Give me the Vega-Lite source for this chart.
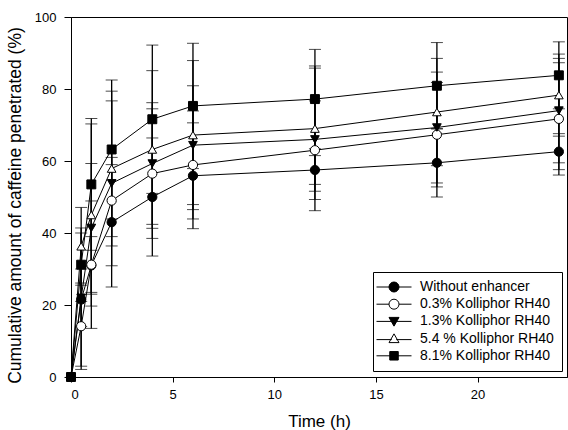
{
  "$schema": "https://vega.github.io/schema/vega-lite/v6.json",
  "width": 496,
  "height": 360,
  "autosize": "none",
  "padding": {"left": 71, "top": 17, "right": 1, "bottom": 53},
  "background": "white",
  "config": {
    "font": "Liberation Sans",
    "view": {"stroke": "black", "strokeWidth": 1},
    "axis": {"grid": false, "domainColor": "black", "tickColor": "black", "labelColor": "black", "titleColor": "black", "domainWidth": 1, "tickWidth": 1, "labelFontSize": 13, "titleFontSize": 17, "titleFontWeight": "normal", "labelFont": "Liberation Sans", "titleFont": "Liberation Sans"}
  },
  "data": {
    "values": [
      {"series": "Without enhancer", "t": 0, "v": 0, "sd": 0},
      {"series": "Without enhancer", "t": 0.5, "v": 21.5, "sd": 18.5},
      {"series": "Without enhancer", "t": 1, "v": 31, "sd": 8},
      {"series": "Without enhancer", "t": 2, "v": 43, "sd": 18},
      {"series": "Without enhancer", "t": 4, "v": 50, "sd": 16.4},
      {"series": "Without enhancer", "t": 6, "v": 55.9, "sd": 14.7},
      {"series": "Without enhancer", "t": 12, "v": 57.5, "sd": 4},
      {"series": "Without enhancer", "t": 18, "v": 59.5, "sd": 9.5},
      {"series": "Without enhancer", "t": 24, "v": 62.6, "sd": 5},
      {"series": "0.3% Kolliphor RH40", "t": 0, "v": 0, "sd": 0},
      {"series": "0.3% Kolliphor RH40", "t": 0.5, "v": 14.1, "sd": 12},
      {"series": "0.3% Kolliphor RH40", "t": 1, "v": 31.2, "sd": 17.7},
      {"series": "0.3% Kolliphor RH40", "t": 2, "v": 49, "sd": 10},
      {"series": "0.3% Kolliphor RH40", "t": 4, "v": 56.5, "sd": 18},
      {"series": "0.3% Kolliphor RH40", "t": 6, "v": 58.9, "sd": 15},
      {"series": "0.3% Kolliphor RH40", "t": 12, "v": 63, "sd": 13.7},
      {"series": "0.3% Kolliphor RH40", "t": 18, "v": 67.3, "sd": 14.5},
      {"series": "0.3% Kolliphor RH40", "t": 24, "v": 71.7, "sd": 15.6},
      {"series": "1.3% Kolliphor RH40", "t": 0, "v": 0, "sd": 0},
      {"series": "1.3% Kolliphor RH40", "t": 0.5, "v": 22, "sd": 8},
      {"series": "1.3% Kolliphor RH40", "t": 1, "v": 41.4, "sd": 17.9},
      {"series": "1.3% Kolliphor RH40", "t": 2, "v": 53.8, "sd": 22.9},
      {"series": "1.3% Kolliphor RH40", "t": 4, "v": 59.3, "sd": 16.9},
      {"series": "1.3% Kolliphor RH40", "t": 6, "v": 64.4, "sd": 16.5},
      {"series": "1.3% Kolliphor RH40", "t": 12, "v": 66, "sd": 19.8},
      {"series": "1.3% Kolliphor RH40", "t": 18, "v": 69.3, "sd": 15.4},
      {"series": "1.3% Kolliphor RH40", "t": 24, "v": 74, "sd": 14.5},
      {"series": "5.4 % Kolliphor RH40", "t": 0, "v": 0, "sd": 0},
      {"series": "5.4 % Kolliphor RH40", "t": 0.5, "v": 36.3, "sd": 10.8},
      {"series": "5.4 % Kolliphor RH40", "t": 1, "v": 45, "sd": 25.3},
      {"series": "5.4 % Kolliphor RH40", "t": 2, "v": 57.9, "sd": 21.5},
      {"series": "5.4 % Kolliphor RH40", "t": 4, "v": 63.2, "sd": 21.9},
      {"series": "5.4 % Kolliphor RH40", "t": 6, "v": 67.2, "sd": 20.7},
      {"series": "5.4 % Kolliphor RH40", "t": 12, "v": 69, "sd": 17.4},
      {"series": "5.4 % Kolliphor RH40", "t": 18, "v": 73.6, "sd": 14.9},
      {"series": "5.4 % Kolliphor RH40", "t": 24, "v": 78.3, "sd": 11.4},
      {"series": "8.1% Kolliphor RH40", "t": 0, "v": 0, "sd": 0},
      {"series": "8.1% Kolliphor RH40", "t": 0.5, "v": 31.2, "sd": 10.2},
      {"series": "8.1% Kolliphor RH40", "t": 1, "v": 53.5, "sd": 18.3},
      {"series": "8.1% Kolliphor RH40", "t": 2, "v": 63.2, "sd": 19.3},
      {"series": "8.1% Kolliphor RH40", "t": 4, "v": 71.6, "sd": 20.6},
      {"series": "8.1% Kolliphor RH40", "t": 6, "v": 75.3, "sd": 17.4},
      {"series": "8.1% Kolliphor RH40", "t": 12, "v": 77.2, "sd": 13.8},
      {"series": "8.1% Kolliphor RH40", "t": 18, "v": 80.9, "sd": 12},
      {"series": "8.1% Kolliphor RH40", "t": 24, "v": 83.8, "sd": 9.3}
    ]
  },
  "encoding": {
    "x": {"field": "t", "type": "quantitative", "scale": {"domain": [0, 24.4], "nice": false, "zero": false},
      "axis": {"title": "Time (h)", "values": [0, 5, 10, 15, 20], "tickSize": 5, "labelPadding": 6, "titlePadding": 12}},
    "y": {"field": "v", "type": "quantitative", "scale": {"domain": [0, 100], "nice": false},
      "axis": {"title": "Cumulative amount of caffeine penetrated (%)", "values": [0, 20, 40, 60, 80, 100], "tickSize": 7, "labelPadding": 8, "titlePadding": 10, "titleFontSize": 17.5, "titleY": 188}}
  },
  "layer": [
    {
      "mark": {"type": "errorbar", "ticks": {"size": 12, "color": "black", "strokeWidth": 1.3}, "rule": {"color": "black", "strokeWidth": 1.3}},
      "transform": [{"filter": "datum.t > 0"}],
      "encoding": {
        "x": {"field": "t", "type": "quantitative"},
        "y": {"field": "v", "type": "quantitative", "title": "Cumulative amount of caffeine penetrated (%)"},
        "yError": {"field": "sd"},
        "detail": {"field": "series"}
      }
    },
    {
      "mark": {"type": "line", "color": "black", "strokeWidth": 1},
      "encoding": {"detail": {"field": "series"}}
    },
    {
      "transform": [{"filter": "datum.series === 'Without enhancer'"}],
      "mark": {"type": "point", "shape": "circle", "filled": true, "fill": "black", "stroke": "black", "strokeWidth": 1, "opacity": 1, "size": 85}
    },
    {
      "transform": [{"filter": "datum.series === '0.3% Kolliphor RH40'"}],
      "mark": {"type": "point", "shape": "circle", "filled": true, "fill": "white", "stroke": "black", "strokeWidth": 1, "opacity": 1, "size": 85}
    },
    {
      "transform": [{"filter": "datum.series === '1.3% Kolliphor RH40'"}],
      "mark": {"type": "point", "shape": "triangle-down", "filled": true, "fill": "black", "stroke": "black", "strokeWidth": 1, "opacity": 1, "size": 75}
    },
    {
      "transform": [{"filter": "datum.series === '5.4 % Kolliphor RH40'"}],
      "mark": {"type": "point", "shape": "triangle-up", "filled": true, "fill": "white", "stroke": "black", "strokeWidth": 1, "opacity": 1, "size": 75}
    },
    {
      "transform": [{"filter": "datum.series === '8.1% Kolliphor RH40'"}],
      "mark": {"type": "point", "shape": "square", "filled": true, "fill": "black", "stroke": "black", "strokeWidth": 1, "opacity": 1, "size": 80}
    },
    {
      "transform": [{"filter": "datum.t < 0"}],
      "mark": {"type": "point", "filled": true, "stroke": "black", "strokeWidth": 1, "opacity": 1, "size": 81},
      "encoding": {
        "stroke": {"value": "black"},
        "shape": {"field": "series", "type": "nominal",
          "scale": {"domain": ["Without enhancer", "0.3% Kolliphor RH40", "1.3% Kolliphor RH40", "5.4 % Kolliphor RH40", "8.1% Kolliphor RH40"],
                    "range": ["M-3.5,0H-1M1,0H3.5M-1,0A1,1,0,1,1,1,0A1,1,0,1,1,-1,0Z", "M-3.5,0H-1M1,0H3.5M-1,0A1,1,0,1,1,1,0A1,1,0,1,1,-1,0Z", "M-3.5,0H3.5M-1,-0.8H1L0,0.95Z", "M-3.5,0.2H-0.45M0.45,0.2H3.5M0,-0.95L1,0.8H-1Z", "M-3.5,0H3.5M-0.85,-0.85H0.85V0.85H-0.85Z"]},
          "legend": {
            "title": null, "orient": "none", "legendX": 302, "legendY": 255,
            "padding": 8, "strokeColor": "black", "fillColor": "white",
            "labelFontSize": 14, "labelFont": "Liberation Sans", "labelColor": "black",
            "symbolOffset": 6, "labelOffset": 19, "rowPadding": 3.2,
            "symbolStrokeColor": "black", "symbolStrokeWidth": 1, "symbolOpacity": 1,
            "encode": {"symbols": {"update": {"stroke": {"value": "black"}, "strokeWidth": {"value": 1}}}}
          }
        },
        "fill": {"field": "series", "type": "nominal",
          "scale": {"domain": ["Without enhancer", "0.3% Kolliphor RH40", "1.3% Kolliphor RH40", "5.4 % Kolliphor RH40", "8.1% Kolliphor RH40"],
                    "range": ["black", "white", "black", "white", "black"]},
          "legend": {"title": null, "orient": "none", "legendX": 302, "legendY": 255,
            "padding": 8, "strokeColor": "black", "fillColor": "white",
            "labelFontSize": 14, "labelFont": "Liberation Sans", "labelColor": "black",
            "symbolOffset": 6, "labelOffset": 19, "rowPadding": 3.2,
            "symbolStrokeColor": "black", "symbolStrokeWidth": 1, "symbolOpacity": 1,
            "encode": {"symbols": {"update": {"stroke": {"value": "black"}, "strokeWidth": {"value": 1}}}}}
        }
      }
    }
  ]
}
